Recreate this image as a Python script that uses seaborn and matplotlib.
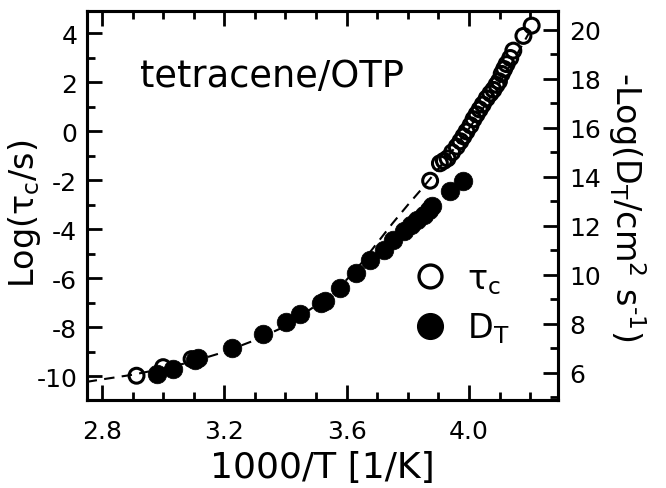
import matplotlib
matplotlib.use("Agg")
import numpy as np
import pandas as pd
import matplotlib.pyplot as plt
import seaborn as sns
from matplotlib.lines import Line2D
from matplotlib.ticker import MultipleLocator

# ---- data ----
# rotational correlation time tau_c (left axis, Log(tau_c/s))
tau_x = [2.913, 3.000, 3.093, 3.873, 3.905, 3.918, 3.930, 3.945, 3.960, 3.972,
         3.982, 3.992, 4.005, 4.015, 4.025, 4.035, 4.045, 4.058, 4.070, 4.080,
         4.090, 4.098, 4.107, 4.115, 4.123, 4.135, 4.145, 4.178, 4.205]
tau_log = [-9.97, -9.62, -9.29, -2.01, -1.30, -1.20, -1.10, -0.85, -0.62, -0.40,
           -0.20, 0.00, 0.25, 0.50, 0.70, 0.90, 1.10, 1.35, 1.55, 1.70,
           1.90, 2.05, 2.35, 2.55, 2.75, 3.00, 3.30, 3.90, 4.32]

# translational diffusion D_T (right axis, -Log(D_T/cm^2 s^-1))
dt_x = [2.979, 3.033, 3.105, 3.115, 3.224, 3.325, 3.402, 3.447, 3.515, 3.528,
        3.577, 3.629, 3.678, 3.722, 3.753, 3.786, 3.810, 3.830, 3.852, 3.870,
        3.880, 3.938, 3.982]
dt_neglog = [5.94, 6.15, 6.52, 6.59, 6.99, 7.57, 8.05, 8.39, 8.82, 8.94,
             9.46, 10.05, 10.59, 11.00, 11.39, 11.76, 12.04, 12.24, 12.44, 12.64,
             12.79, 13.39, 13.80]

# dashed fit curve (left axis units)
fit_x = [2.750, 2.800, 2.900, 3.000, 3.100, 3.200, 3.300, 3.400, 3.500, 3.550,
         3.600, 3.650, 3.700, 3.750, 3.800, 3.850, 3.900, 3.950, 4.000, 4.050,
         4.100, 4.150, 4.200, 4.212]
fit_log = [-10.22, -10.12, -9.93, -9.68, -9.38, -9.00, -8.52, -7.95, -7.10, -6.62,
           -6.05, -5.35, -4.55, -3.75, -3.00, -2.28, -1.52, -0.72, 0.12, 1.02,
           1.98, 3.00, 4.10, 4.38]

xticks = [2.8, 3.2, 3.6, 4.0]
xtick_labels = ["2.8", "3.2", "3.6", "4.0"]
left_ticks = [-10, -8, -6, -4, -2, 0, 2, 4]
right_ticks = [6, 8, 10, 12, 14, 16, 18, 20]

tau_df = pd.DataFrame({"x": tau_x, "y": tau_log})
dt_df = pd.DataFrame({"x": dt_x, "y": dt_neglog})
fit_df = pd.DataFrame({"x": fit_x, "y": fit_log})

sns.set_style("ticks")
plt.rcParams["font.family"] = ["DejaVu Sans"]
plt.rcParams["mathtext.default"] = "regular"
for k in ["text.color", "axes.edgecolor", "axes.labelcolor", "xtick.color", "ytick.color"]:
    plt.rcParams[k] = "black"

fig = plt.figure(figsize=(6.66, 4.89), dpi=100)
ax = fig.add_axes([0.1306, 0.180, 0.7072, 0.7955])
ax2 = ax.twinx()

offset = 15.84
ylo, yhi = -10.96, 4.918

sns.lineplot(data=fit_df, x="x", y="y", ax=ax, color="black", lw=1.5,
             dashes=False, estimator=None, sort=False)
ax.lines[0].set_dashes((5, 3.5))

sns.scatterplot(data=tau_df, x="x", y="y", ax=ax, s=115, facecolor="none",
                edgecolor="black", linewidth=2.2, marker="o", zorder=3)
sns.scatterplot(data=dt_df, x="x", y="y", ax=ax2, s=180, color="black",
                edgecolor="black", linewidth=0.5, marker="o", zorder=3)

ax.set_xlim(2.751, 4.291)
ax.set_ylim(ylo, yhi)
ax2.set_ylim(ylo + offset, yhi + offset)

ax.set_xticks(xticks)
ax.set_xticklabels(xtick_labels)
ax.xaxis.set_minor_locator(MultipleLocator(0.1))
ax.set_yticks(left_ticks)
ax.set_yticklabels([str(t) for t in left_ticks])
ax.yaxis.set_minor_locator(MultipleLocator(1))
ax2.set_yticks(right_ticks)
ax2.set_yticklabels([str(t) for t in right_ticks])
ax2.yaxis.set_minor_locator(MultipleLocator(1))

for a in (ax, ax2):
    for sp in a.spines.values():
        sp.set_linewidth(2.2)
        sp.set_visible(True)
        sp.set_color("black")
ax.tick_params(axis="both", which="major", direction="in", length=11, width=2.0,
               labelsize=18, top=True, right=False, colors="black")
ax.tick_params(axis="both", which="minor", direction="in", length=6, width=2.0,
               top=True, right=False, colors="black")
ax.tick_params(axis="x", which="major", pad=14)
ax.tick_params(axis="y", which="major", pad=7)
ax2.tick_params(axis="y", which="major", direction="in", length=11, width=2.0,
                labelsize=18, pad=8, colors="black")
ax2.tick_params(axis="y", which="minor", direction="in", length=6, width=2.0,
                colors="black")

ax.set_xlabel("1000/T [1/K]", fontsize=26, labelpad=5)
ax.set_ylabel(r"Log($\tau_\mathregular{c}$/s)", fontsize=24)
ax.yaxis.set_label_coords(-0.094, 0.48)
ax2.set_ylabel(r"-Log(D$_\mathregular{T}$/cm$^\mathregular{2}$ s$^\mathregular{‐1}$)",
               fontsize=24, rotation=270, labelpad=30)
ax2.yaxis.set_label_coords(1.190, 0.50)

ax.text(2.923, 1.85, "tetracene/OTP", fontsize=26.5, ha="left", va="baseline")

handles = [
    Line2D([], [], ls="none", marker="o", markersize=16.5, markerfacecolor="none",
           markeredgecolor="black", markeredgewidth=2.4),
    Line2D([], [], ls="none", marker="o", markersize=18.5, markerfacecolor="black",
           markeredgecolor="black"),
]
leg = ax2.legend(handles, [r"$\tau_\mathregular{c}$", r"D$_\mathregular{T}$"],
                 loc="upper left", bbox_to_anchor=(0.693, 0.355), frameon=False,
                 fontsize=24, handlelength=1.0, handletextpad=0.6,
                 labelspacing=0.45, borderpad=0, borderaxespad=0)

fig.savefig("out.png", dpi=100)
